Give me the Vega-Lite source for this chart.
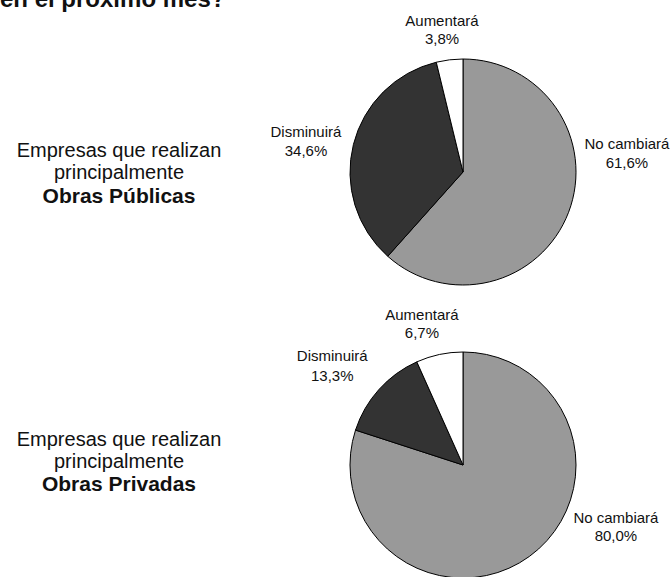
{
  "$schema": "https://vega.github.io/schema/vega-lite/v6.json",
  "padding": 0,
  "background": "#ffffff",
  "config": {
    "view": {"stroke": null},
    "locale": {"number": {"decimal": ",", "thousands": ".", "grouping": [3], "currency": ["", " €"]}},
    "text": {"font": "Liberation Sans", "color": "#111111"}
  },
  "data": {
    "values": [
      {"grupo": "Obras Públicas", "categoria": "No cambiará", "valor": 0.616, "orden": 1},
      {"grupo": "Obras Públicas", "categoria": "Disminuirá", "valor": 0.346, "orden": 2},
      {"grupo": "Obras Públicas", "categoria": "Aumentará", "valor": 0.038, "orden": 3},
      {"grupo": "Obras Privadas", "categoria": "No cambiará", "valor": 0.8, "orden": 1},
      {"grupo": "Obras Privadas", "categoria": "Disminuirá", "valor": 0.133, "orden": 2},
      {"grupo": "Obras Privadas", "categoria": "Aumentará", "valor": 0.067, "orden": 3}
    ]
  },
  "columns": 2,
  "spacing": 0,
  "bounds": "flush",
  "concat": [
    {
      "width": 234,
      "height": 344,
      "transform": [{"filter": "datum.grupo === 'Obras Públicas' && datum.orden === 1"}],
      "layer": [
        {"mark": {"type": "text", "text": "en el próximo mes?", "align": "left", "baseline": "alphabetic", "dx": -117, "dy": -165, "fontSize": 24, "fontWeight": "bold", "clip": true}},
        {"mark": {"type": "text", "text": "Empresas que realizan", "align": "center", "baseline": "alphabetic", "dx": 2, "dy": -15, "fontSize": 20}},
        {"mark": {"type": "text", "text": "principalmente", "align": "center", "baseline": "alphabetic", "dx": 2, "dy": 7, "fontSize": 20}},
        {"mark": {"type": "text", "align": "center", "baseline": "alphabetic", "dx": 2, "dy": 31, "fontSize": 21, "fontWeight": "bold"},
         "encoding": {"text": {"field": "grupo", "type": "nominal"}}}
      ]
    },
    {
      "width": 458,
      "height": 344,
      "transform": [{"filter": "datum.grupo === 'Obras Públicas'"}],
      "encoding": {
        "theta": {"field": "valor", "type": "quantitative", "stack": true},
        "order": {"field": "orden", "type": "quantitative"}
      },
      "layer": [
        {"mark": {"type": "arc", "outerRadius": 113, "stroke": "#000000", "strokeWidth": 1},
         "encoding": {"color": {"field": "categoria", "type": "nominal", "legend": null,
           "scale": {"domain": ["No cambiará", "Disminuirá", "Aumentará"], "range": ["#999999", "#333333", "#ffffff"]}}}},
        {"mark": {"type": "text", "radius": 143, "dx": -4, "dy": -9, "baseline": "middle"},
         "encoding": {"size": {"condition": {"test": "datum.categoria === 'Aumentará'", "value": 15}, "value": 0},
           "text": {"condition": {"test": "datum.categoria === 'Aumentará'", "field": "categoria", "type": "nominal"}, "value": ""}}},
        {"mark": {"type": "text", "radius": 143, "dx": -4, "dy": 9, "baseline": "middle"},
         "encoding": {"size": {"condition": {"test": "datum.categoria === 'Aumentará'", "value": 15}, "value": 0},
           "text": {"condition": {"test": "datum.categoria === 'Aumentará'", "field": "valor", "type": "quantitative", "format": ".1%"}, "value": ""}}},
        {"mark": {"type": "text", "radius": 166, "dx": 4, "dy": 0, "baseline": "middle"},
         "encoding": {"size": {"condition": {"test": "datum.categoria === 'Disminuirá'", "value": 15}, "value": 0},
           "text": {"condition": {"test": "datum.categoria === 'Disminuirá'", "field": "categoria", "type": "nominal"}, "value": ""}}},
        {"mark": {"type": "text", "radius": 166, "dx": 4, "dy": 19, "baseline": "middle"},
         "encoding": {"size": {"condition": {"test": "datum.categoria === 'Disminuirá'", "value": 15}, "value": 0},
           "text": {"condition": {"test": "datum.categoria === 'Disminuirá'", "field": "valor", "type": "quantitative", "format": ".1%"}, "value": ""}}},
        {"mark": {"type": "text", "radius": 165, "thetaOffset": -0.48, "dy": -9, "baseline": "middle"},
         "encoding": {"size": {"condition": {"test": "datum.categoria === 'No cambiará'", "value": 15}, "value": 0},
           "text": {"condition": {"test": "datum.categoria === 'No cambiará'", "field": "categoria", "type": "nominal"}, "value": ""}}},
        {"mark": {"type": "text", "radius": 165, "thetaOffset": -0.48, "dy": 10, "baseline": "middle"},
         "encoding": {"size": {"condition": {"test": "datum.categoria === 'No cambiará'", "value": 15}, "value": 0},
           "text": {"condition": {"test": "datum.categoria === 'No cambiará'", "field": "valor", "type": "quantitative", "format": ".1%"}, "value": ""}}}
      ]
    },
    {
      "width": 234,
      "height": 242,
      "transform": [{"filter": "datum.grupo === 'Obras Privadas' && datum.orden === 1"}],
      "layer": [
        {"mark": {"type": "text", "text": "Empresas que realizan", "align": "center", "baseline": "alphabetic", "dx": 2, "dy": -19, "fontSize": 20}},
        {"mark": {"type": "text", "text": "principalmente", "align": "center", "baseline": "alphabetic", "dx": 2, "dy": 3, "fontSize": 20}},
        {"mark": {"type": "text", "align": "center", "baseline": "alphabetic", "dx": 2, "dy": 26, "fontSize": 21, "fontWeight": "bold"},
         "encoding": {"text": {"field": "grupo", "type": "nominal"}}}
      ]
    },
    {
      "width": 458,
      "height": 242,
      "transform": [{"filter": "datum.grupo === 'Obras Privadas'"}],
      "encoding": {
        "theta": {"field": "valor", "type": "quantitative", "stack": true},
        "order": {"field": "orden", "type": "quantitative"}
      },
      "layer": [
        {"mark": {"type": "arc", "outerRadius": 113, "stroke": "#000000", "strokeWidth": 1},
         "encoding": {"color": {"field": "categoria", "type": "nominal", "legend": null,
           "scale": {"domain": ["No cambiará", "Disminuirá", "Aumentará"], "range": ["#999999", "#333333", "#ffffff"]}}}},
        {"mark": {"type": "text", "radius": 144, "dx": -11, "dy": -9, "baseline": "middle"},
         "encoding": {"size": {"condition": {"test": "datum.categoria === 'Aumentará'", "value": 15}, "value": 0},
           "text": {"condition": {"test": "datum.categoria === 'Aumentará'", "field": "categoria", "type": "nominal"}, "value": ""}}},
        {"mark": {"type": "text", "radius": 144, "dx": -11, "dy": 9, "baseline": "middle"},
         "encoding": {"size": {"condition": {"test": "datum.categoria === 'Aumentará'", "value": 15}, "value": 0},
           "text": {"condition": {"test": "datum.categoria === 'Aumentará'", "field": "valor", "type": "quantitative", "format": ".1%"}, "value": ""}}},
        {"mark": {"type": "text", "radius": 165, "dx": -8, "dy": 1, "baseline": "middle"},
         "encoding": {"size": {"condition": {"test": "datum.categoria === 'Disminuirá'", "value": 15}, "value": 0},
           "text": {"condition": {"test": "datum.categoria === 'Disminuirá'", "field": "categoria", "type": "nominal"}, "value": ""}}},
        {"mark": {"type": "text", "radius": 165, "dx": -8, "dy": 21, "baseline": "middle"},
         "encoding": {"size": {"condition": {"test": "datum.categoria === 'Disminuirá'", "value": 15}, "value": 0},
           "text": {"condition": {"test": "datum.categoria === 'Disminuirá'", "field": "valor", "type": "quantitative", "format": ".1%"}, "value": ""}}},
        {"mark": {"type": "text", "radius": 165, "thetaOffset": -0.557, "dy": -9, "baseline": "middle"},
         "encoding": {"size": {"condition": {"test": "datum.categoria === 'No cambiará'", "value": 15}, "value": 0},
           "text": {"condition": {"test": "datum.categoria === 'No cambiará'", "field": "categoria", "type": "nominal"}, "value": ""}}},
        {"mark": {"type": "text", "radius": 165, "thetaOffset": -0.557, "dy": 9, "baseline": "middle"},
         "encoding": {"size": {"condition": {"test": "datum.categoria === 'No cambiará'", "value": 15}, "value": 0},
           "text": {"condition": {"test": "datum.categoria === 'No cambiará'", "field": "valor", "type": "quantitative", "format": ".1%"}, "value": ""}}}
      ]
    }
  ]
}
